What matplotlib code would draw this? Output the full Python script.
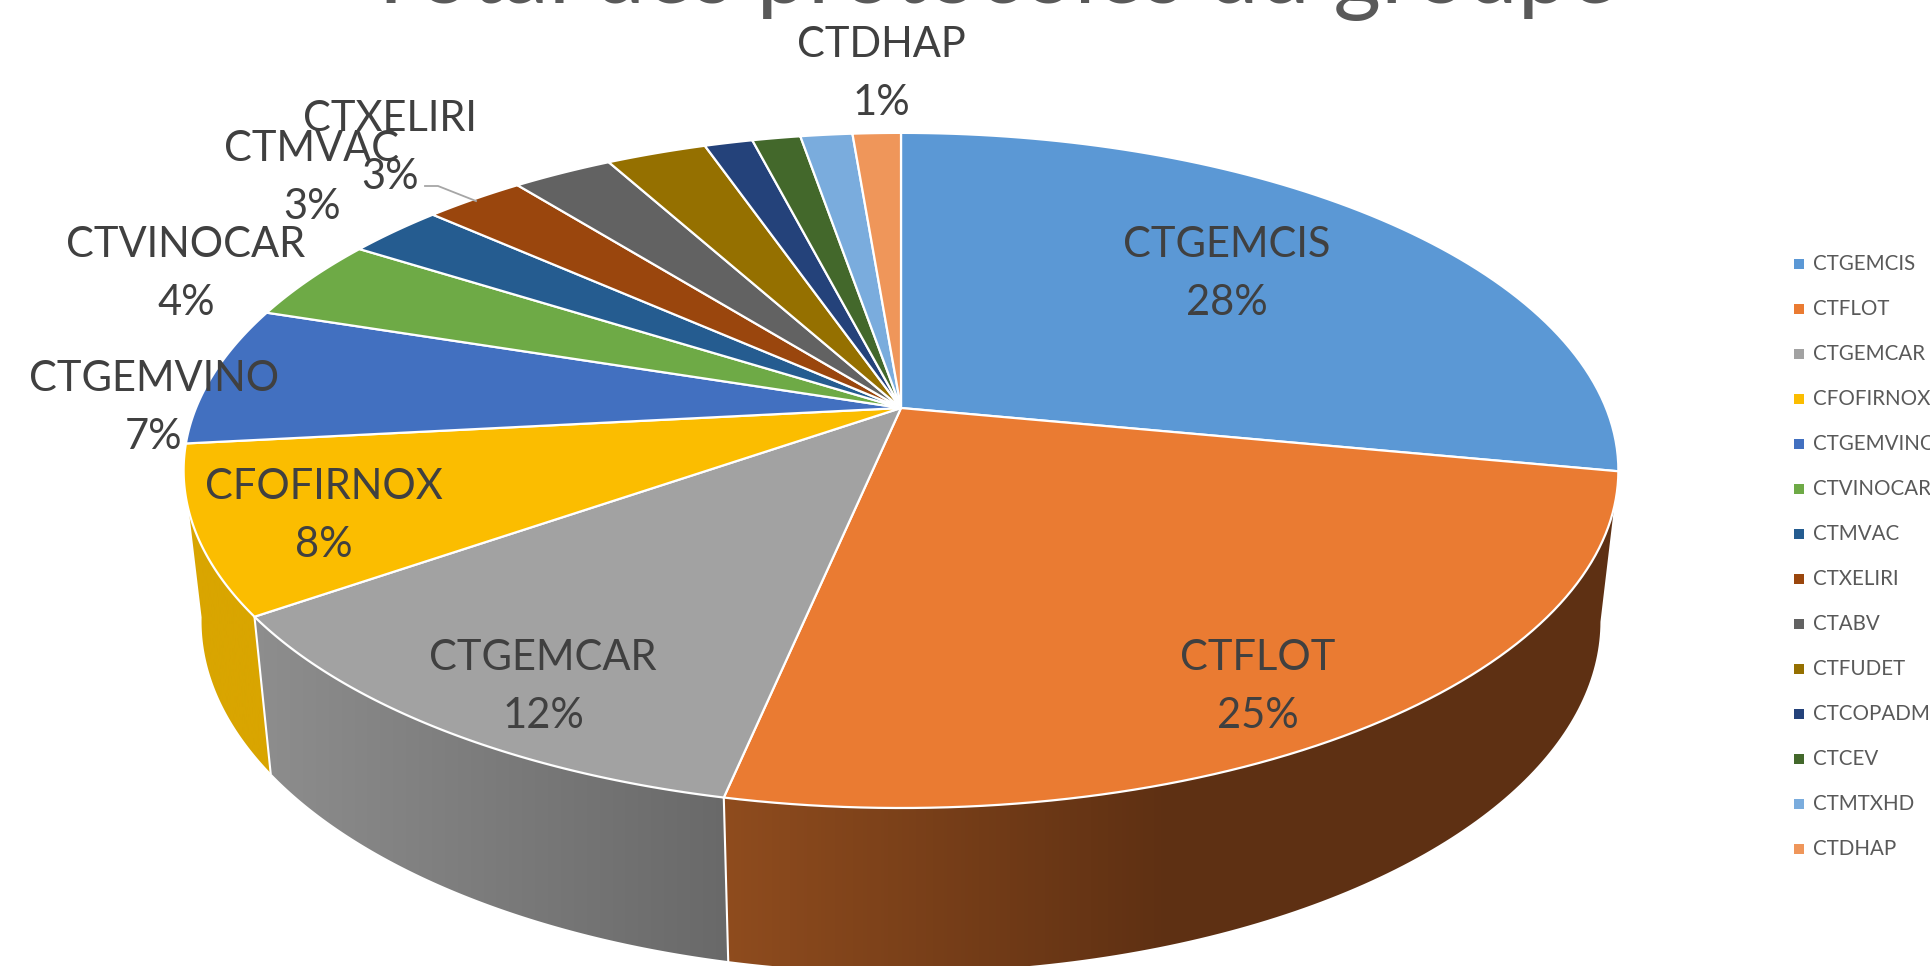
#!/usr/bin/env python3
import numpy as np
import matplotlib
matplotlib.use('Agg')
import matplotlib.pyplot as plt
from matplotlib.patches import Polygon
from matplotlib.colors import LinearSegmentedColormap

plt.rcParams['font.family'] = ['Lato', 'DejaVu Sans']

title = 'Total des protocoles du groupe'
categories = ['CTGEMCIS', 'CTFLOT', 'CTGEMCAR', 'CFOFIRNOX', 'CTGEMVINO', 'CTVINOCAR', 'CTMVAC',
              'CTXELIRI', 'CTABV', 'CTFUDET', 'CTCOPADM', 'CTCEV', 'CTMTXHD', 'CTDHAP']
values = [28.0, 25.3, 12.0, 8.0, 6.7, 4.0, 2.6, 2.7, 2.7, 2.7, 1.3, 1.3, 1.4, 1.3]
colors = ['#5B98D5', '#EA7B32', '#A2A2A2', '#FBBD00', '#4270C0', '#6EAA46', '#255C90',
          '#9A460D', '#626262', '#957000', '#24427A', '#43682B', '#7AACDD', '#EF965A']
shown_pct = ['28%', '25%', '12%', '8%', '7%', '4%', '3%', '3%', None, None, None, None, None, '1%']
# label centres in pixels, same order as the categories
label_x = [1227, 1258, 543, 324, 154, 186, 312, 390, None, None, None, None, None, 881]
label_y = [274, 687, 687, 516, 408, 274, 178, 148, None, None, None, None, None, 74]

# perspective disc
CX, CY = 901, 408
A, B, K = 705, 326, 0.185
DEPTH, SX, SY = 148, 0.975, 1.04


def rim(frac):
    t = 2 * np.pi * np.atleast_1d(frac)
    w = 1 + K * np.cos(t)
    return A * np.sin(t) / w, B * np.cos(t) / w


def top_rim(frac):
    x, y = rim(frac)
    return np.column_stack([CX + x, CY - y])


def low_rim(frac):
    x, y = rim(frac)
    return np.column_stack([CX + SX * x, CY + DEPTH - SY * y])


fig = plt.figure(figsize=(19.31, 9.66), dpi=100)
ax = fig.add_axes([0, 0, 1, 1])
ax.axis('off')

bounds = np.concatenate([[0], np.cumsum(values)]) / np.sum(values)

# side walls with horizontal gradient
sides = [(bounds[1], bounds[2], ['#8F4C1E', '#5E3013', '#5E3013'], 723, 1620),
         (bounds[2], bounds[3], ['#8E8E8E', '#696969'], 250, 730),
         (bounds[3], 0.722, ['#D9A500', '#D9A500'], 180, 280)]
for f0, f1, ramp, x0, x1 in sides:
    fr = np.linspace(f0, f1, 120)
    poly = Polygon(np.vstack([top_rim(fr), low_rim(fr[::-1])]), closed=True, fc='none', ec='none',
                   transform=ax.transData)
    ax.add_patch(poly)
    cmap = LinearSegmentedColormap.from_list('side', ramp)
    im = ax.imshow(np.linspace(0, 1, 256)[None, :], extent=[x0, x1, 980, 100], cmap=cmap,
                   aspect='auto', zorder=1)
    im.set_clip_path(poly)

# separators on the wall
for f in [bounds[2], bounds[3]]:
    p = np.vstack([top_rim(f), low_rim(f)])
    ax.plot(p[:, 0], p[:, 1], color='white', lw=1.5, zorder=2)

# top of the pie
for i, col in enumerate(colors):
    fr = np.linspace(bounds[i], bounds[i + 1], 80)
    pts = np.vstack([[CX, CY], top_rim(fr)])
    ax.add_patch(Polygon(pts, closed=True, fc=col, ec='white', lw=1.6, joinstyle='round', zorder=3))

# data labels
for name, pct, lx, ly in zip(categories, shown_pct, label_x, label_y):
    if pct is None:
        continue
    ax.text(lx, ly, name + '\n' + pct, ha='center', va='center', fontsize=30, color='#404040',
            linespacing=1.62, zorder=5)

# leader line of CTXELIRI
ax.plot([425, 438, 476], [186, 186, 201], color='#A6A6A6', lw=1.3, zorder=4)

# legend
for i, name in enumerate(categories):
    ly = 264 + i * 45
    ax.scatter([1799], [ly], marker='s', s=62, color=colors[i], linewidths=0, zorder=5)
    ax.text(1813, ly, name, ha='left', va='center', fontsize=14.8, color='#595959', zorder=5)

# title runs off the top
ax.text(991, 3, title, ha='center', va='baseline', fontsize=66, color='#595959', zorder=5)

ax.set_xlim(0, 1931)
ax.set_ylim(966, 0)

plt.savefig('out.png', dpi=100, facecolor='white')
